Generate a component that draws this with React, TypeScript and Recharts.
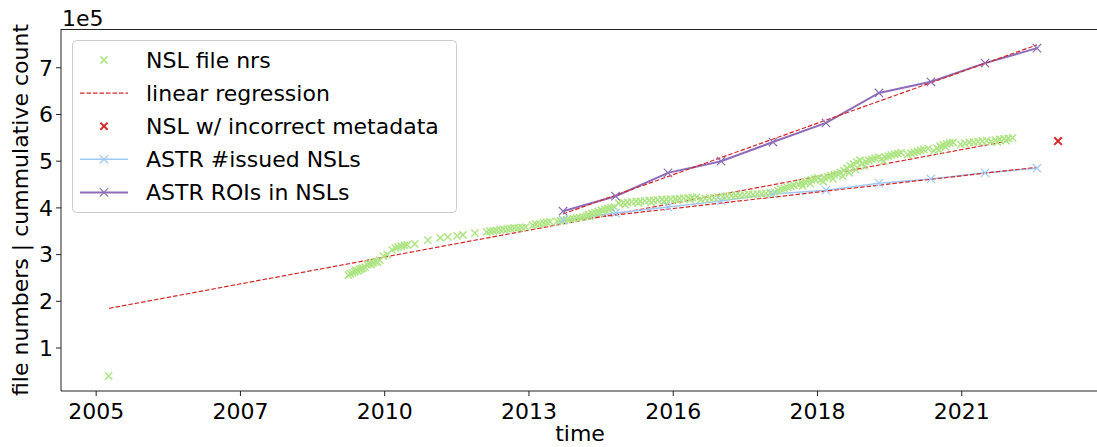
import React from 'react';
import { ComposedChart, Scatter, Line, XAxis, YAxis } from 'recharts';

const FONT = '"DejaVu Sans", Verdana, sans-serif';

// ---- tick labels ----
const xTickValues = [2005, 2007.667, 2010.333, 2013, 2015.667, 2018.333, 2021];
const xTickLabels = ['2005', '2007', '2010', '2013', '2016', '2018', '2021'];
const yTickValues = [100000, 200000, 300000, 400000, 500000, 600000, 700000];

// ---- series ----
// NSL file numbers: [decimal year, file number]
const nslFileNrs: [number, number][] = [
  [2005.23, 40000],
  [2009.66, 256000], [2009.70, 259000], [2009.74, 261000], [2009.78, 263000], [2009.80, 266000],
  [2009.84, 265000], [2009.87, 268000], [2009.90, 270000], [2009.93, 271000], [2009.97, 273000],
  [2010.01, 278000], [2010.05, 280000], [2010.09, 279000], [2010.12, 283000], [2010.16, 285000],
  [2010.20, 284000], [2010.24, 288000],
  [2010.31, 297000], [2010.38, 300000],
  [2010.47, 310000], [2010.53, 314000], [2010.58, 316000], [2010.64, 318000], [2010.70, 320000], [2010.75, 321000],
  [2010.89, 323000], [2011.13, 331000], [2011.36, 336000],
  [2011.50, 338000], [2011.67, 340000], [2011.78, 342000], [2012.00, 346000],
  [2012.22, 348000], [2012.28, 350000], [2012.34, 351000], [2012.40, 352000], [2012.47, 353000], [2012.53, 354000],
  [2012.60, 355000], [2012.66, 356000], [2012.73, 357000], [2012.80, 357000], [2012.87, 358000], [2012.94, 359000],
  [2013.07, 363000], [2013.13, 365000], [2013.20, 366000], [2013.27, 368000], [2013.33, 369000], [2013.39, 370000],
  [2013.52, 371000], [2013.58, 372000], [2013.64, 373000], [2013.70, 375000], [2013.76, 376000], [2013.82, 377000],
  [2013.88, 378000], [2013.94, 379000],
  [2014.00, 381000], [2014.06, 383000], [2014.10, 386000], [2014.16, 388000], [2014.22, 390000], [2014.28, 392000],
  [2014.34, 395000], [2014.40, 397000], [2014.46, 399000], [2014.52, 400000], [2014.58, 402000],
  [2014.12, 382000], [2014.30, 389000], [2014.48, 396000],
  [2014.66, 410000], [2014.74, 411000], [2014.82, 412000], [2014.90, 413000], [2014.98, 414000], [2015.06, 414000],
  [2015.14, 415000], [2015.22, 416000], [2015.30, 416000], [2015.38, 417000], [2015.46, 418000], [2015.54, 418000],
  [2015.62, 419000], [2015.70, 419000], [2015.78, 420000], [2015.86, 421000], [2015.94, 421000], [2016.02, 422000],
  [2016.10, 423000],
  [2014.78, 407000], [2015.02, 410000], [2015.26, 412000], [2015.50, 414000], [2015.74, 416000], [2015.98, 418000],
  [2016.18, 418000], [2016.26, 420000], [2016.34, 421000], [2016.42, 422000], [2016.50, 423000], [2016.58, 424000],
  [2016.66, 425000], [2016.74, 426000], [2016.82, 427000], [2016.90, 427000], [2016.98, 428000], [2017.06, 429000],
  [2017.14, 429000], [2017.22, 430000], [2017.30, 430000], [2017.38, 431000], [2017.46, 432000],
  [2017.54, 434000], [2017.60, 437000], [2017.66, 440000], [2017.72, 442000], [2017.78, 444000], [2017.84, 446000],
  [2017.90, 448000],
  [2017.98, 450000], [2018.04, 453000], [2018.10, 455000], [2018.16, 458000], [2018.22, 460000], [2018.28, 462000],
  [2018.34, 464000], [2018.06, 447000], [2018.20, 452000],
  [2018.40, 460000], [2018.46, 465000], [2018.52, 467000], [2018.58, 469000], [2018.64, 471000], [2018.70, 473000],
  [2018.44, 456000], [2018.62, 462000],
  [2018.76, 476000], [2018.82, 480000], [2018.88, 485000], [2018.94, 490000], [2019.00, 494000], [2019.06, 498000],
  [2019.12, 502000], [2018.80, 468000], [2018.92, 475000], [2019.04, 482000],
  [2019.16, 495000], [2019.22, 499000], [2019.28, 502000], [2019.34, 504000], [2019.40, 506000], [2019.46, 508000],
  [2019.20, 489000],
  [2019.52, 505000], [2019.58, 509000], [2019.64, 511000], [2019.70, 513000], [2019.76, 515000], [2019.82, 516000],
  [2019.88, 518000], [2019.56, 500000],
  [2020.00, 514000], [2020.06, 517000], [2020.12, 519000], [2020.18, 521000], [2020.24, 523000], [2020.30, 525000],
  [2020.38, 527000],
  [2020.48, 522000], [2020.54, 528000], [2020.60, 532000], [2020.66, 535000], [2020.72, 537000], [2020.78, 539000],
  [2020.84, 540000], [2020.58, 524000], [2020.70, 530000],
  [2020.98, 536000], [2021.06, 538000], [2021.14, 540000], [2021.22, 541000], [2021.30, 542000], [2021.38, 543000],
  [2021.46, 544000],
  [2021.54, 542000], [2021.62, 545000], [2021.70, 547000], [2021.78, 548000], [2021.86, 549000], [2021.94, 550000],
  [2021.66, 541000], [2021.82, 544000],
];

const incorrectMetadata: [number, number][] = [[2022.78, 543000]];

const astrYears = [2013.63, 2014.60, 2015.57, 2016.55, 2017.51, 2018.49, 2019.47, 2020.43, 2021.43, 2022.39];
const astrIssued = [374000, 389000, 402000, 415000, 430000, 438000, 453000, 462000, 475000, 485000];
const astrRois = [393000, 425000, 475000, 500000, 541000, 582000, 646000, 670000, 710000, 742000];

const regNsl: [number, number][] = [[2005.24, 185000], [2021.89, 544000]];
const regIssued: [number, number][] = [[2013.63, 372000], [2022.39, 487000]];
const regRois: [number, number][] = [[2013.63, 387000], [2022.39, 749000]];

// ---- styles ----
const GREEN = '#ade583';
const RED = '#d62728';
const BLUE = '#a1c9f4';
const PURPLE = '#8e6cb8';

const toXY = (pts: [number, number][]) => pts.map(([x, y]) => ({ x, y }));
const nslData = toXY(nslFileNrs);
const incorrectData = toXY(incorrectMetadata);
const issuedData = astrYears.map((x, i) => ({ x, y: astrIssued[i] }));
const roisData = astrYears.map((x, i) => ({ x, y: astrRois[i] }));

const crossPath = (cx: number, cy: number, h: number) =>
  `M${cx - h},${cy - h}L${cx + h},${cy + h}M${cx - h},${cy + h}L${cx + h},${cy - h}`;

const makeCross = (color: string, h: number, sw: number) => (props: any) => {
  const { cx, cy, key, index } = props;
  if (cx == null || cy == null) return <g key={key ?? index} />;
  return <path key={key ?? index} d={crossPath(cx, cy, h)} stroke={color} strokeWidth={sw} fill="none" />;
};

const greenCross = makeCross(GREEN, 3.6, 1.5);
const redCross = makeCross(RED, 3.8, 2);
const blueCross = makeCross(BLUE, 4.2, 1.2);
const purpleCross = makeCross(PURPLE, 4.2, 1.2);

const W = 1097;
const H = 447;
const PLOT_LEFT = 61;
const PLOT_TOP = 29;
const PLOT_BOTTOM = 391;

const legendRows = [
  { label: 'NSL file nrs', kind: 'marker', color: GREEN, sw: 1.5 },
  { label: 'linear regression', kind: 'dash', color: RED, sw: 1.2 },
  { label: 'NSL w/ incorrect metadata', kind: 'marker', color: RED, sw: 2 },
  { label: 'ASTR #issued NSLs', kind: 'line', color: BLUE, sw: 1.5 },
  { label: 'ASTR ROIs in NSLs', kind: 'line', color: PURPLE, sw: 2 },
];

export default function App() {
  return (
    <div style={{ position: 'absolute', left: 0, top: 0, width: W, height: H, background: '#fff', overflow: 'hidden' }}>
      <ComposedChart width={W} height={H} margin={{ top: PLOT_TOP, right: 0, left: 0, bottom: 0 }}>
        <XAxis
          type="number"
          dataKey="x"
          domain={[2004.35, 2023.5]}
          allowDataOverflow
          ticks={xTickValues}
          tickFormatter={(v: number) => xTickLabels[xTickValues.indexOf(v)] ?? ''}
          height={H - PLOT_BOTTOM}
          tickSize={5}
          tickMargin={7}
          interval={0}
          stroke="#222"
          tick={{ fontSize: 22, fill: '#000', fontFamily: FONT }}
        />
        <YAxis
          type="number"
          dataKey="y"
          domain={[8000, 783000]}
          allowDataOverflow
          ticks={yTickValues}
          tickFormatter={(v: number) => String(Math.round(v / 100000))}
          width={PLOT_LEFT}
          tickSize={5}
          tickMargin={3}
          interval={0}
          stroke="#222"
          tick={{ fontSize: 22, fill: '#000', fontFamily: FONT }}
        />
        <Scatter data={nslData} shape={greenCross} isAnimationActive={false} />
        <Line data={toXY(regNsl)} dataKey="y" stroke={RED} strokeWidth={1.2} strokeDasharray="4.5 2" dot={false} activeDot={false} isAnimationActive={false} />
        <Scatter data={incorrectData} shape={redCross} isAnimationActive={false} />
        <Line data={issuedData} dataKey="y" stroke={BLUE} strokeWidth={1.5} dot={blueCross} activeDot={false} isAnimationActive={false} />
        <Line data={toXY(regIssued)} dataKey="y" stroke={RED} strokeWidth={1.2} strokeDasharray="4.5 2" dot={false} activeDot={false} isAnimationActive={false} />
        <Line data={roisData} dataKey="y" stroke={PURPLE} strokeWidth={2} dot={purpleCross} activeDot={false} isAnimationActive={false} />
        <Line data={toXY(regRois)} dataKey="y" stroke={RED} strokeWidth={1.2} strokeDasharray="4.5 2" dot={false} activeDot={false} isAnimationActive={false} />
      </ComposedChart>
      <svg width={W} height={H} style={{ position: 'absolute', left: 0, top: 0, pointerEvents: 'none' }} fontFamily={FONT}>
        <line x1={PLOT_LEFT} y1={PLOT_TOP + 0.5} x2={W} y2={PLOT_TOP + 0.5} stroke="#222" strokeWidth={1} />
        <text x={62} y={26} fontSize={22} fill="#000">1e5</text>
        <text x={580} y={441} fontSize={22} fill="#000" textAnchor="middle">time</text>
        <text transform="translate(28,210) rotate(-90)" fontSize={22} fill="#000" textAnchor="middle">
          file numbers | cummulative count
        </text>
        <rect x={72.5} y={40.5} width={384} height={172} rx={4} ry={4} fill="rgba(255,255,255,0.8)" stroke="#cccccc" strokeWidth={1} />
        {legendRows.map((r, i) => {
          const cy = 60 + 33.1 * i;
          return (
            <g key={r.label}>
              {r.kind === 'dash' && (
                <line x1={80} y1={cy} x2={128} y2={cy} stroke={r.color} strokeWidth={r.sw} strokeDasharray="4.5 2" />
              )}
              {r.kind === 'line' && (
                <>
                  <line x1={80} y1={cy} x2={128} y2={cy} stroke={r.color} strokeWidth={r.sw} />
                  <path d={crossPath(104, cy, 4.2)} stroke={r.color} strokeWidth={1.2} fill="none" />
                </>
              )}
              {r.kind === 'marker' && (
                <path d={crossPath(104, cy, 3.6)} stroke={r.color} strokeWidth={r.sw} fill="none" />
              )}
              <text x={146} y={cy + 7.5} fontSize={22} fill="#000">{r.label}</text>
            </g>
          );
        })}
      </svg>
    </div>
  );
}
